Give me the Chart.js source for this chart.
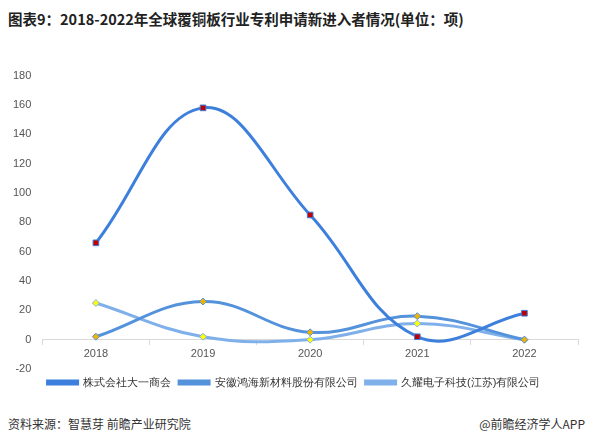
<!DOCTYPE html>
<html><head><meta charset="utf-8">
<script src="https://cdn.jsdelivr.net/npm/chart.js@4"></script>
<style>
body{margin:0;width:595px;height:446px;background:#fff;font-family:"Noto Sans CJK SC",sans-serif;position:relative;overflow:hidden}
#title{position:absolute;left:8px;top:8px;font-size:14.5px;font-weight:bold;color:#222}
#wrap{position:absolute;left:10px;top:66px;width:580px;height:332px}
#src{position:absolute;left:8px;top:415px;font-size:12px;color:#333}
#app{position:absolute;right:10px;top:415px;font-size:12px;color:#333}
</style></head><body>
<div id="title">图表9：2018-2022年全球覆铜板行业专利申请新进入者情况(单位：项)</div>
<div id="wrap"><canvas id="c"></canvas></div>
<div id="src">资料来源：智慧芽 前瞻产业研究院</div>
<div id="app">@前瞻经济学人APP</div>
<script>
const years = ['2018', '2019', '2020', '2021', '2022'];
const daiichi = [66, 158, 85, 2, 18];
const anhui = [2, 26, 5, 16, 0];
const jiuyao = [25, 2, 0, 11, 0];

function series(label, data, color, marker, pointColor, size) {
    return {label, data, borderColor: color, backgroundColor: pointColor, pointStyle: marker,
            pointRadius: size, pointBorderColor: color, pointBorderWidth: 1, borderWidth: 3, tension: 0.4};
}

new Chart(document.getElementById('c'), {
    type: 'line',
    data: {
        labels: years,
        datasets: [series('株式会社大一商会', daiichi, '#3c7fdc', 'rect', '#c00000', 4),
                   series('安徽鸿海新材料股份有限公司', anhui, '#5592dc', 'rectRot', '#f0b400', 3.5),
                   series('久耀电子科技(江苏)有限公司', jiuyao, '#7fb0ea', 'rectRot', '#ffff00', 3.5)]
    },
    options: {
        responsive: true, maintainAspectRatio: false, animation: false,
        layout: {padding: {right: 12}},
        scales: {
            y: {min: -20, max: 180, ticks: {stepSize: 20, color: '#555', font: {size: 11}},
                grid: {display: false}, border: {display: false}},
            x: {position: {y: 0}, offset: true,
                ticks: {color: '#555', font: {size: 11}},
                grid: {offset: true, drawOnChartArea: false, tickLength: 5, color: '#d9d9d9'},
                border: {color: '#d9d9d9'}}
        },
        plugins: {
            legend: {position: 'bottom', labels: {boxWidth: 30, boxHeight: 3, color: '#333', font: {size: 11}, padding: 8}},
            tooltip: {enabled: false}
        }
    }
});
</script></body></html>
